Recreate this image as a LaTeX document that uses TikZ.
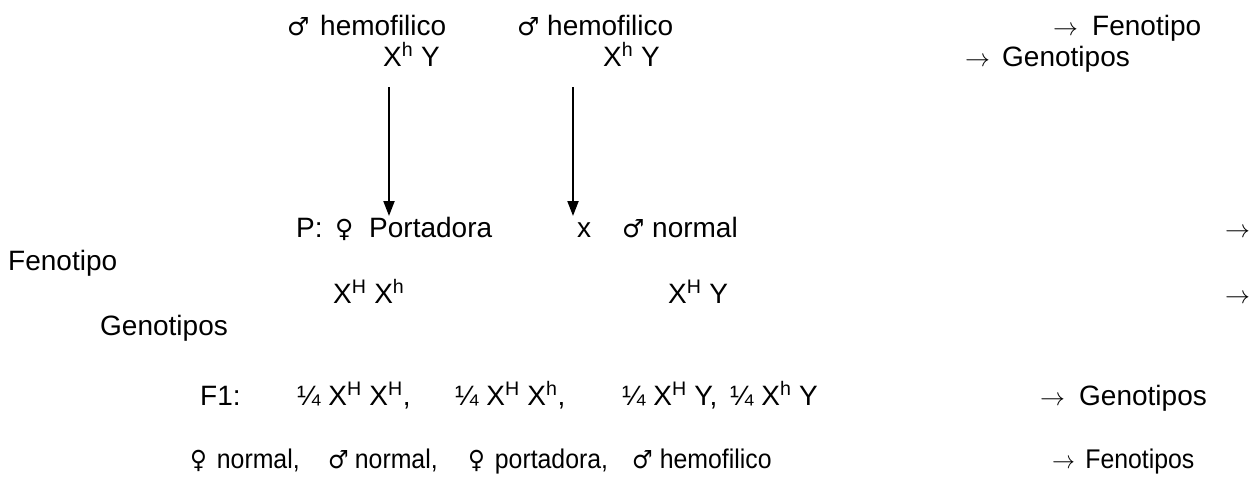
\documentclass[tikz,border=0pt]{standalone}
\usepackage{fontspec}
\usepackage{graphicx}
\setmainfont{Liberation Sans}
\newfontfamily\symf{DejaVu Sans}
\usetikzlibrary{arrows.meta}
% symbol followed by a fixed slot up to the next word
\newcommand{\ma}[1]{\makebox[#1pt][l]{\symf\fontsize{25}{25}\selectfont ♂}}
\newcommand{\fe}[1]{\makebox[#1pt][l]{\symf\fontsize{25}{25}\selectfont ♀}}
\newcommand{\ar}[1]{\makebox[#1pt][l]{$\rightarrow$}}
\newcommand{\sps}[1]{\textsuperscript{#1}}
\newcommand{\cnd}[1]{\scalebox{0.92}[1]{#1}}
\begin{document}
\begin{tikzpicture}[x=1pt,y=-1pt,
  txt/.style={anchor=base west,inner sep=0pt,font=\fontsize{28}{32}\selectfont},
  txs/.style={anchor=base west,inner sep=0pt,font=\fontsize{27}{31}\selectfont},
  cross/.style={line width=2pt,-{Triangle[length=15pt,width=11pt]}}]
\fill[white] (0,0) rectangle (1260,479);
\useasboundingbox (0,0) rectangle (1260,479);
% row 1
\node[txt] (m1) at (287,35) {\ma{33}hemofilico};
\node[txt] (m2) at (517,35) {\ma{30}hemofilico};
\node[txt] (f1) at (1053,35) {\ar{39}Fenotipo};
% row 2
\node[txt] (g1) at (383,66) {X\sps{h} Y};
\node[txt] (g2) at (603,66) {X\sps{h} Y};
\node[txt] (gg) at (965,66) {\ar{37}Genotipos};
% arrows
\coordinate (a1s) at (389,87);
\coordinate (a1e) at (389,216);
\coordinate (a2s) at (573,87);
\coordinate (a2e) at (573,216);
\draw[cross] (a1s) -- (a1e);
\draw[cross] (a2s) -- (a2e);
% row 3
\node[txt] (p) at (296,237) {P:};
\node[txt] (pf) at (335,237) {\fe{34}Portadora};
\node[txt] (x) at (577,237) {x};
\node[txt] (mn) at (622,237) {\ma{30}normal};
\node[txt] (r3) at (1225,237) {\ar{28}};
% row 4
\node[txt] (fen) at (8,270) {Fenotipo};
% row 5
\node[txt] (gf) at (333,303) {X\sps{H} X\sps{h}};
\node[txt] (gm) at (668,303) {X\sps{H} Y};
\node[txt] (r5) at (1225,303) {\ar{28}};
% row 6
\node[txt] (gen) at (100,335) {Genotipos};
% row 7
\node[txt] (F1) at (200,405) {F1:};
\node[txt] (c1) at (297,405) {¼ X\sps{H} X\sps{H},};
\node[txt] (c2) at (455,405) {¼ X\sps{H} X\sps{h},};
\node[txt] (c3) at (622,405) {¼ X\sps{H} Y,};
\node[txt] (c4) at (730,405) {¼ X\sps{h} Y};
\node[txt] (g7) at (1040,405) {\ar{39}Genotipos};
% row 8
\node[txs] (d1) at (190,468) {\cnd{\fe{29}normal,}};
\node[txs] (d2) at (328,468) {\cnd{\ma{29}normal,}};
\node[txs] (d3) at (468,468) {\cnd{\fe{29}portadora,}};
\node[txs] (d4) at (632,468) {\cnd{\ma{30}hemofilico}};
\node[txs] (f8) at (1052,468) {\cnd{\ar{36}Fenotipos}};
\end{tikzpicture}
\end{document}
